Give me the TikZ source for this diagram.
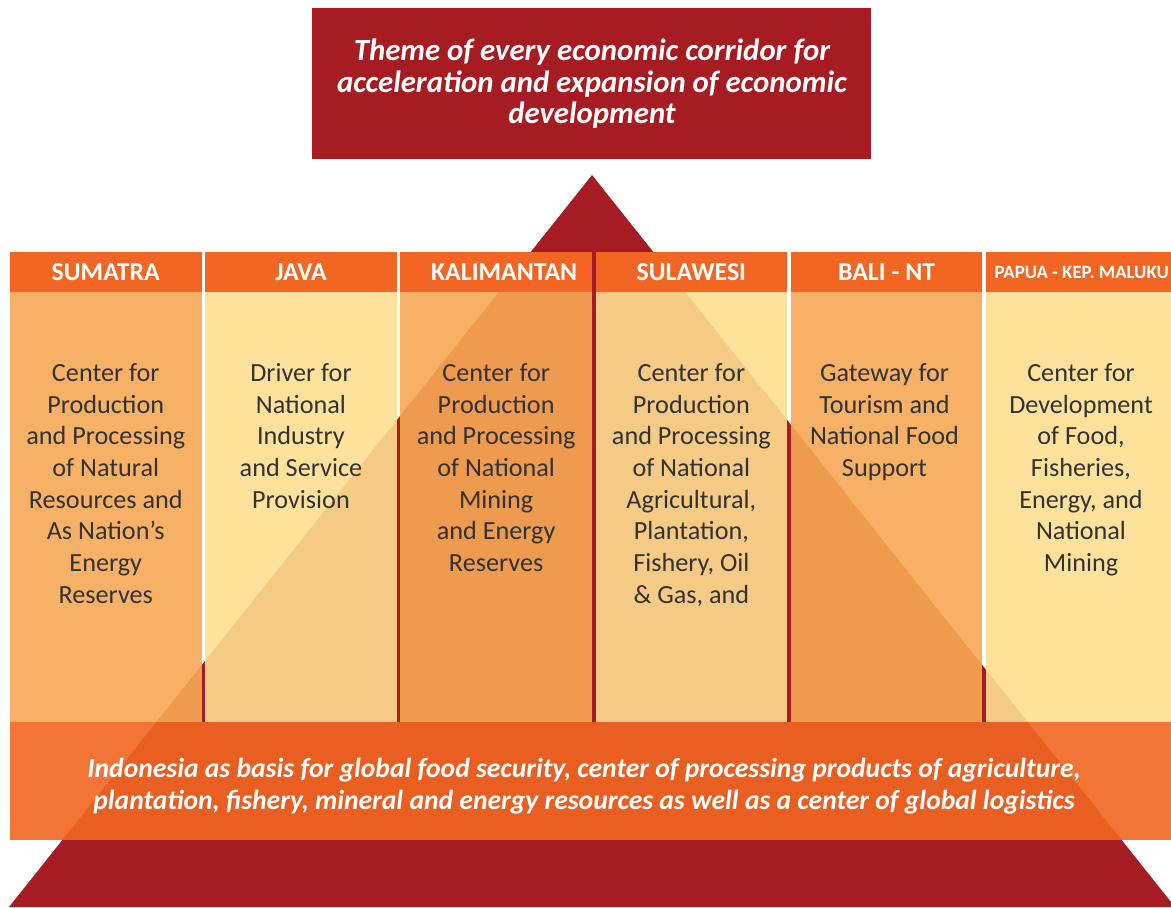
\documentclass[tikz,border=0pt]{standalone}
\usepackage{fontspec}
\setmainfont{Carlito}
\definecolor{corridorred}{RGB}{167,28,34}
\definecolor{headorange}{RGB}{242,101,34}
\definecolor{oddfill}{RGB}{246,169,85}
\definecolor{evenfill}{RGB}{254,222,144}
\definecolor{bandfill}{RGB}{241,102,33}
\definecolor{textgray}{RGB}{50,50,50}
\tikzset{
  header/.style={fill=headorange, text=white, font=\bfseries\fontsize{12.9}{14}\selectfont,
    minimum width=95.75pt, minimum height=20pt, inner sep=0pt},
  bodytext/.style={anchor=north, align=center, text=textgray, inner sep=0pt,
    font=\fontsize{13.1}{15.85}\selectfont},
  oddcol/.style={fill=oddfill, fill opacity=0.9},
  evencol/.style={fill=evenfill, fill opacity=0.9},
  whitetext/.style={align=center, text=white, inner sep=0pt,
    font=\bfseries\itshape\fontsize{15.4}{15.75}\selectfont}
}
\begin{document}
\begin{tikzpicture}[x=0.5pt, y=-0.5pt]
  \useasboundingbox (0,0) rectangle (1171,907);
  \clip (0,0) rectangle (1171,907);

  % theme box and pyramid
  \node[fill=corridorred, minimum width=279.5pt, minimum height=75.5pt] (themebox) at (591.5,83) {};
  \node[whitetext] (theme) at (592,84) {Theme of every economic corridor for\\
    acceleration and expansion of economic\\ development};
  \fill[corridorred] (592,175) -- (9,907) -- (1175,907) -- cycle;

  % columns
  \fill[oddcol]  (10,292)    rectangle ++(191.5,430);
  \fill[evencol] (205.2,292) rectangle ++(191.5,430);
  \fill[oddcol]  (400.4,292) rectangle ++(191.5,430);
  \fill[evencol] (595.6,292) rectangle ++(191.5,430);
  \fill[oddcol]  (790.8,292) rectangle ++(191.5,430);
  \fill[evencol] (986,292)   rectangle ++(191.5,430);

  \node[header] (sumatra)    at (105.75,272) {SUMATRA};
  \node[header] (java)       at (300.95,272) {JAVA};
  \node[header] (kalimantan) at (496.15,272) {\hspace*{8pt}KALIMANTAN};
  \node[header] (sulawesi)   at (691.35,272) {SULAWESI};
  \node[header] (balint)     at (886.55,272) {BALI - NT};
  \node[header, font=\bfseries\fontsize{9.4}{11}\selectfont] (papua) at (1081.75,272) {PAPUA - KEP. MALUKU};

  \node[bodytext] (sumatra-text) at (105.75,363) {Center for\\ Production\\ and Processing\\ of Natural\\
    Resources and\\ As Nation’s\\ Energy\\ Reserves};
  \node[bodytext] (java-text) at (300.95,363) {Driver for\\ National\\ Industry\\ and Service\\ Provision};
  \node[bodytext] (kalimantan-text) at (496.15,363) {Center for\\ Production\\ and Processing\\
    of National\\ Mining\\ and Energy\\ Reserves};
  \node[bodytext] (sulawesi-text) at (691.35,363) {Center for\\ Production\\ and Processing\\
    of National\\ Agricultural,\\ Plantation,\\ Fishery, Oil\\ \& Gas, and};
  \node[bodytext] (balint-text) at (884.5,363) {Gateway for\\ Tourism and\\ National Food\\ Support};
  \node[bodytext] (papua-text) at (1081,363) {Center for\\ Development\\ of Food,\\ Fisheries,\\
    Energy, and\\ National\\ Mining};

  % bottom band
  \fill[bandfill, fill opacity=0.9] (10,722) rectangle (1171,840);
  \node[whitetext, font=\bfseries\itshape\fontsize{13.8}{16}\selectfont] (basis) at (584,786)
    {Indonesia as basis for global food security, center of processing products of agriculture,\\
     plantation, fishery, mineral and energy resources as well as a center of global logistics};
\end{tikzpicture}
\end{document}
